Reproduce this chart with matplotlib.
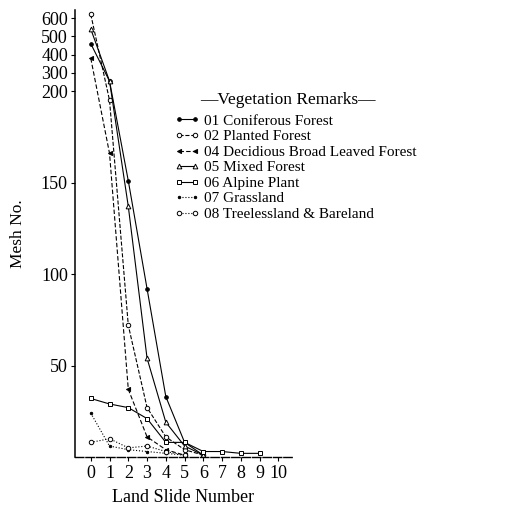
import numpy as np
import matplotlib

matplotlib.use("Agg")
import matplotlib.pyplot as plt
from matplotlib.lines import Line2D

plt.rcParams["font.family"] = ["Liberation Serif", "DejaVu Serif"]

# landslide number on the x axis, mesh count per vegetation class
coniferous = [460, 255, 151, 92, 33, 8, 1]
planted = [620, 195, 72, 27, 11, 4, 1]
deciduous = [380, 166, 37, 11, 4, 1]
mixed = [540, 255, 137, 54, 19, 6, 1]
alpine = [32, 29, 27, 21, 8, 8, 3, 3, 2, 2]
grassland = [24, 6, 4, 3, 2, 1]
treeless = [8, 10, 5, 6, 3, 1]

labels = [
    "01 Coniferous Forest",
    "02 Planted Forest",
    "04 Decidious Broad Leaved Forest",
    "05 Mixed Forest",
    "06 Alpine Plant",
    "07 Grassland",
    "08 Treelessland & Bareland",
]
y_ticks = [50, 100, 150, 200, 300, 400, 500, 600]
x_ticks = list(range(11))

BREAK = 200.0
SQUEEZE = 0.1


def forward(v):
    v = np.asarray(v, dtype=float)
    return np.where(v <= BREAK, v, BREAK + (v - BREAK) * SQUEEZE)


def inverse(u):
    u = np.asarray(u, dtype=float)
    return np.where(u <= BREAK, u, BREAK + (u - BREAK) / SQUEEZE)


fig = plt.figure(figsize=(5.16, 5.07), dpi=100)
ax = fig.add_axes([0.145, 0.0986, 0.42, 0.8817])
ax.set_yscale("function", functions=(forward, inverse))

styles = [
    (coniferous, dict(ls="-", marker="o", ms=2.6, mfc="black")),
    (planted, dict(ls="--", marker="o", ms=3.2, mfc="white")),
    (deciduous, dict(ls=(0, (4, 2)), marker="<", ms=3, mfc="black")),
    (mixed, dict(ls="-", marker="^", ms=3.4, mfc="white")),
    (alpine, dict(ls="-", marker="s", ms=3.4, mfc="white")),
    (grassland, dict(ls=":", marker=".", ms=3.5, mfc="black")),
    (treeless, dict(ls=":", marker="o", ms=3.2, mfc="white")),
]

handles = []
for values, st in styles:
    xs = np.arange(len(values))
    ax.plot(xs, values, color="black", lw=0.8, mec="black", mew=0.7, **st)
    handles.append(Line2D([], [], color="black", lw=0.8, mec="black", mew=0.7, **st))

ax.set_xlim(-0.85, 10.7)
ax.set_ylim(0, 644)
ax.set_xticks(x_ticks)
ax.set_yticks(y_ticks)
ax.set_yticklabels([str(t) for t in y_ticks])
ax.tick_params(axis="both", labelsize=13, direction="out", length=3, width=0.8, pad=2)
ax.tick_params(axis="x", pad=3)
ax.spines["top"].set_visible(False)
ax.spines["right"].set_visible(False)
ax.spines["left"].set_linewidth(1.1)
ax.spines["bottom"].set_linewidth(1.0)
ax.spines["bottom"].set_linestyle((0, (6, 1.5)))

ax.set_ylabel("Mesh No.", fontsize=12.5, labelpad=11)
ax.set_xlabel("Land Slide Number", fontsize=13, labelpad=5)

fig.text(0.388, 0.803, "\u2014Vegetation Remarks\u2014", fontsize=12.5, va="center")
fig.legend(
    handles,
    labels,
    loc="upper left",
    bbox_to_anchor=(0.327, 0.787),
    frameon=False,
    fontsize=11,
    numpoints=2,
    handlelength=1.6,
    handletextpad=0.3,
    labelspacing=0.12,
    borderaxespad=0,
)

fig.savefig("out.png", dpi=100)
